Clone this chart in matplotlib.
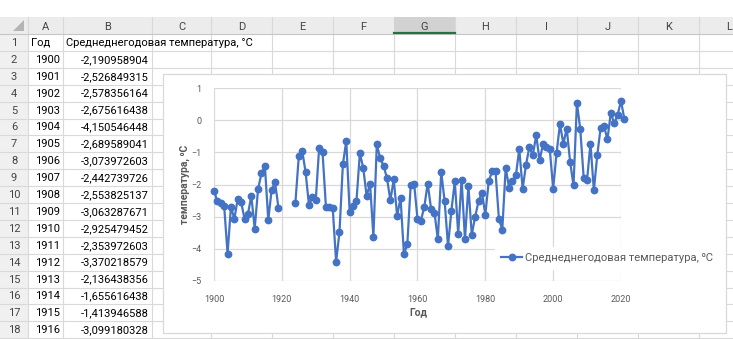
import numpy as np
import matplotlib
matplotlib.use("Agg")
import matplotlib.pyplot as plt
from matplotlib.patches import Rectangle

W, H = 733, 339

# ---- data -------------------------------------------------------------
years = list(range(1900, 2022))
temps = [
    -2.190958904, -2.526849315, -2.578356164, -2.675616438, -4.150546448,
    -2.689589041, -3.073972603, -2.442739726, -2.553825137, -3.063287671,
    -2.925479452, -2.353972603, -3.370218579, -2.136438356, -1.655616438,
    -1.413946588, -3.099180328, -2.16, -1.93, -2.72,
    np.nan, np.nan, np.nan, np.nan,
    -2.57, -1.12, -0.95, -1.61, -2.64, -2.39, -2.49, -0.86, -1.00, -2.69,
    -2.69, -2.72, -4.40, -3.48, -1.37, -0.65, -2.85, -2.66, -2.52, -1.03,
    -1.48, -2.36, -1.97, -3.62, -0.75, -1.19, -1.42, -1.80, -2.49, -1.84,
    -2.98, -2.41, -4.17, -3.85, -2.00, -1.97, -3.07, -3.12, -2.70, -1.97,
    -2.75, -2.88, -3.70, -1.61, -2.52, -3.91, -2.81, -1.90, -3.53, -1.85,
    -3.70, -2.05, -3.56, -3.00, -2.52, -2.25, -2.94, -1.90, -1.59, -1.59,
    -3.07, -3.40, -1.48, -2.10, -1.90, -1.72, -0.90, -2.13, -1.38, -0.83,
    -1.09, -0.47, -1.25, -0.75, -0.83, -0.90, -2.13, -1.03, -0.12, -0.73,
    -0.26, -1.30, -2.03, 0.54, -0.29, -1.79, -1.85, -0.73, -2.18, -1.09,
    -0.23, -0.19, -0.60, 0.23, -0.10, 0.16, 0.60, 0.03,
]
col_letters = ["A", "B", "C", "D", "E", "F", "G", "H", "I", "J", "K", "L"]
header_year = "Год"
header_temp = "Среднеднегодовая температура, °С"
series_name = "Среднеднегодовая температура, ⁰С"
x_title = "Год"
y_title = "температура, ⁰С"
x_ticks = [1900, 1920, 1940, 1960, 1980, 2000, 2020]
y_ticks = [-5, -4, -3, -2, -1, 0, 1]

# ---- styling -----------------------------------------------------------
FONT = ["Roboto", "DejaVu Sans"]
plt.rcParams["font.family"] = FONT
BLUE = "#4472C4"
GRID = "#d9d9d9"
TXT_GREY = "#595959"

fig = plt.figure(figsize=(W / 100, H / 100), dpi=100)
fig.patch.set_facecolor("white")

# worksheet drawn in pixel space
sheet = fig.add_axes([0, 0, 1, 1])
sheet.set_xlim(0, W)
sheet.set_ylim(H, 0)
sheet.axis("off")

col_edges = [0, 28, 63, 152, 211, 272, 333, 394, 455, 516, 577, 638, 699, 760]
head_top, head_bot = 17, 34
row_h = 16.9
n_rows = 18

# header band and row-number column
sheet.add_patch(Rectangle((0, head_top), W, head_bot - head_top,
                          facecolor="#ececec", edgecolor="none", zorder=1))
sheet.add_patch(Rectangle((0, head_bot), col_edges[1], H - head_bot,
                          facecolor="#f0f0f0", edgecolor="none", zorder=1))
# selected column header (G)
gi = col_letters.index("G") + 1
sheet.add_patch(Rectangle((col_edges[gi], head_top), col_edges[gi + 1] - col_edges[gi],
                          head_bot - head_top, facecolor="#d2d2d2", edgecolor="none", zorder=2))
sheet.plot([col_edges[gi], col_edges[gi + 1]], [head_bot - 1, head_bot - 1],
           color="#217346", lw=1.6, zorder=3)
# corner triangle
sheet.add_patch(plt.Polygon([[24, 20], [24, 31], [13, 31]], closed=True,
                            facecolor="#b4b4b4", edgecolor="none", zorder=2))

# grid lines
for x in col_edges[1:]:
    sheet.plot([x, x], [head_top, H], color=GRID, lw=0.8, zorder=1.5)
sheet.plot([0, W], [head_bot, head_bot], color="#c6c6c6", lw=0.8, zorder=1.5)
for r in range(1, n_rows + 1):
    y = head_bot + r * row_h
    sheet.plot([0, W], [y, y], color=GRID, lw=0.8, zorder=1.5)

# column letters
for i, letter in enumerate(col_letters):
    cx = (col_edges[i + 1] + col_edges[i + 2]) / 2
    sheet.text(cx, (head_top + head_bot) / 2 + 1, letter, ha="center", va="center",
               fontsize=8, color="#444444", zorder=4)

# row numbers and cell content
for r in range(1, n_rows + 1):
    cy = head_bot + (r - 0.5) * row_h + 0.5
    sheet.text(14, cy, str(r), ha="center", va="center", fontsize=8,
               color="#444444", zorder=4)
    if r == 1:
        sheet.text(col_edges[1] + 3, cy, header_year, ha="left", va="center",
                   fontsize=8, color="black", zorder=4)
        sheet.text(col_edges[2] + 3, cy, header_temp, ha="left", va="center",
                   fontsize=8, color="black", zorder=4)
    else:
        k = r - 2
        sheet.text(col_edges[2] - 3, cy, str(years[k]), ha="right", va="center",
                   fontsize=8, color="black", zorder=4)
        val = f"{temps[k]:.9f}".replace(".", ",")
        sheet.text(col_edges[3] - 3, cy, val, ha="right", va="center",
                   fontsize=8, color="black", zorder=4)

# chart area
sheet.add_patch(Rectangle((163, 74), 726 - 163, 333 - 74, facecolor="white",
                          edgecolor=GRID, lw=0.9, zorder=5))

# ---- chart ---------------------------------------------------------------
px_l, px_r, px_t, px_b = 214, 621, 88, 281
ax = fig.add_axes([px_l / W, 1 - px_b / H, (px_r - px_l) / W, (px_b - px_t) / H])
ax.set_zorder(6)
ax.patch.set_alpha(0)
ax.plot(years, temps, color=BLUE, lw=1.6, marker="o", markersize=4.6,
        markerfacecolor=BLUE, markeredgecolor=BLUE, clip_on=False, zorder=3,
        label=series_name)
ax.set_xlim(1900, 2020)
ax.set_ylim(-5, 1)
ax.set_xticks(x_ticks)
ax.set_yticks(y_ticks)
ax.grid(True, color=GRID, lw=0.9)
ax.set_axisbelow(True)
for s in ax.spines.values():
    s.set_visible(False)
ax.tick_params(length=0, labelsize=6.5, labelcolor=TXT_GREY)
ax.tick_params(axis="x", pad=10)
ax.tick_params(axis="y", pad=9)

leg = ax.legend(loc="center left", bbox_to_anchor=(489 / W, 1 - 258 / H),
                bbox_transform=fig.transFigure, frameon=True, fancybox=False,
                facecolor="white", edgecolor="white", framealpha=1,
                fontsize=8.1, handlelength=1.9, handletextpad=0.25,
                borderpad=0.55, labelcolor=TXT_GREY)
leg.set_zorder(10)

fig.text(418 / W, 1 - 312 / H, x_title, ha="center", va="center", fontsize=7.5,
         fontweight="bold", color=TXT_GREY, zorder=7)
fig.text(185 / W, 1 - 184 / H, y_title, ha="center", va="center", fontsize=7.5,
         fontweight="bold", color=TXT_GREY, rotation=90, zorder=7)

fig.savefig("out.png", dpi=100, facecolor="white")
